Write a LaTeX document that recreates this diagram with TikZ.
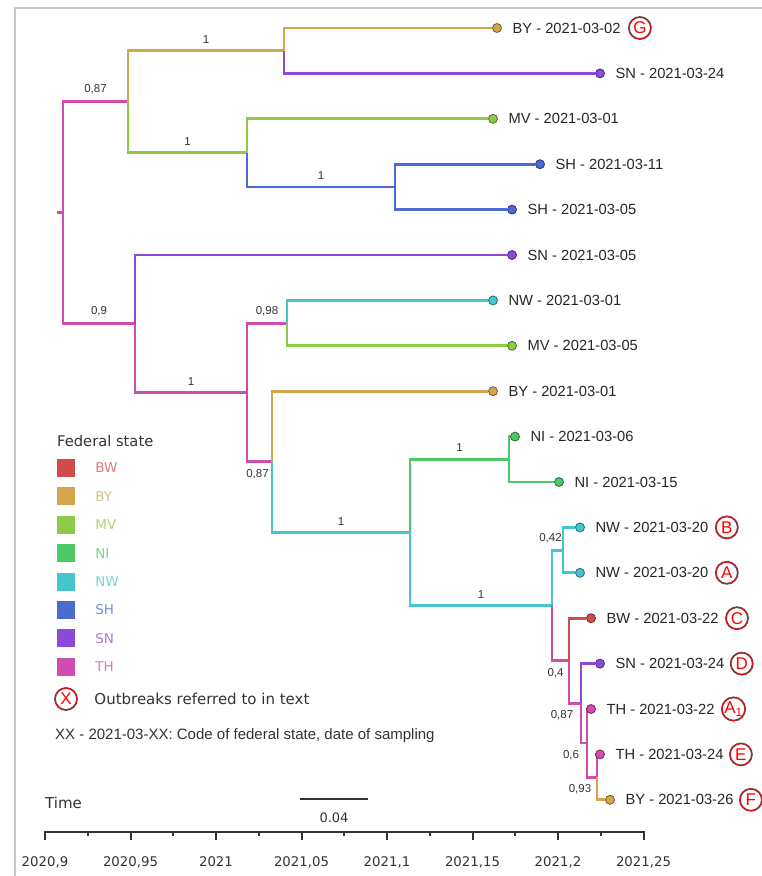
\documentclass[tikz,border=0pt]{standalone}
\usepackage{fontspec}
\setmainfont{Liberation Sans}
\newfontfamily\dejavu{DejaVu Sans}
\usetikzlibrary{positioning, backgrounds}
\definecolor{cBW}{HTML}{D24B4B}
\definecolor{cBY}{HTML}{D3A64C}
\definecolor{cMV}{HTML}{8DCB45}
\definecolor{cNI}{HTML}{4CC966}
\definecolor{cNW}{HTML}{45C5CC}
\definecolor{cSH}{HTML}{4B6BD0}
\definecolor{cSN}{HTML}{8B4BD8}
\definecolor{cTH}{HTML}{D24BAF}
\definecolor{cgrey}{HTML}{333333}
\tikzset{
  branch/.style={draw=#1, line width=2.8pt},
  tip/.style={circle, fill=#1, draw=#1!55!black, line width=0.8pt, minimum size=9pt, inner sep=0pt},
  tiplabel/.style={font=\fontsize{14.7}{16}\selectfont, text=black!85, inner sep=0pt},
  bs/.style={font=\fontsize{11.5}{13}\selectfont, text=cgrey, inner sep=1pt},
  marker/.style={circle, draw=gray!70!black, line width=0.5pt, double=red, double distance=0.8pt, text=red, font=\fontsize{17}{19}\selectfont, minimum size=22pt, inner sep=0pt},
  swatch/.style={fill=#1, minimum size=18pt, inner sep=0pt},
  legtext/.style={text=#1!75, font=\dejavu\fontsize{13.5}{15}\selectfont, inner sep=0pt},
  axis/.style={draw=cgrey, line width=2pt},
  note/.style={text=cgrey, inner sep=0pt},
}
\begin{document}
\begin{tikzpicture}[x=1pt, y=-1pt]
  \useasboundingbox (0,0) rectangle (762,876);
  \draw[gray!45, line width=1.5pt] (15,876) -- (15,8) -- (762,8);

  % tips, one per row
  \foreach \n/\x/\c/\txt [count=\i from 0] in {
    by02/497/cBY/BY - 2021-03-02, sn24a/600/cSN/SN - 2021-03-24,
    mv01/493/cMV/MV - 2021-03-01, sh11/540/cSH/SH - 2021-03-11,
    sh05/512/cSH/SH - 2021-03-05, sn05/512/cSN/SN - 2021-03-05,
    nw01/493/cNW/NW - 2021-03-01, mv05/512/cMV/MV - 2021-03-05,
    by01/493/cBY/BY - 2021-03-01, ni06/515/cNI/NI - 2021-03-06,
    ni15/559/cNI/NI - 2021-03-15, nw20b/580/cNW/NW - 2021-03-20,
    nw20a/580/cNW/NW - 2021-03-20, bw22/591/cBW/BW - 2021-03-22,
    sn24/600/cSN/SN - 2021-03-24, th22/591/cTH/TH - 2021-03-22,
    th24/600/cTH/TH - 2021-03-24, by26/610/cBY/BY - 2021-03-26}
  {
    \node[tip=\c] (\n) at (\x, 28+45.4*\i) {};
    \node[tiplabel, right=10.5pt of \n] (l\n) {\txt};
  }
  \node[marker, right=8pt of lby02] (mG) {G};
  \node[marker, right=7pt of lnw20b] (mB) {B};
  \node[marker, right=7pt of lnw20a] (mA) {A};
  \node[marker, right=7pt of lbw22] (mC) {C};
  \node[marker, right=6pt of lsn24] (mD) {D};
  \node[marker, right=7pt of lth22] (mA1) {A\textsubscript{1}};
  \node[marker, right=6pt of lth24] (mE) {E};
  \node[marker, right=6pt of lby26] (mF) {F};

  % inner nodes of the tree
  \coordinate (stub) at (57,212.8);
  \coordinate (root) at (63,212.8);
  \coordinate (top) at (128,101.8);
  \coordinate (bysn) at (284,50.7);
  \coordinate (mvsh) at (247,152.85);
  \coordinate (sh) at (395,186.9);
  \coordinate (bot) at (135,323.7);
  \coordinate (mid) at (247,392.5);
  \coordinate (nwmv) at (287,323.1);
  \coordinate (byx) at (272,461.8);
  \coordinate (nwni) at (410,532.4);
  \coordinate (ni) at (509,459.3);
  \coordinate (out) at (552,605.4);
  \coordinate (nwab) at (563,550.1);
  \coordinate (bw) at (569,660.8);
  \coordinate (sn) at (581,703.3);
  \coordinate (tha) at (587,743.05);
  \coordinate (the) at (597,777.1);

  \begin{scope}[on background layer]
    \draw[branch=cTH] (stub) -- (root);
    \draw[branch=cTH] (root) |- node[bs, pos=0.75, above=5pt] (b1) {0,87} (top);
    \draw[branch=cTH] (root) |- node[bs, pos=0.75, above=5pt] (b2) {0,9} (bot);
    \draw[branch=cBY] (top) |- node[bs, pos=0.75, above=5pt] (b3) {1} (bysn);
    \draw[branch=cMV] (top) |- node[bs, pos=0.75, above=5pt] (b4) {1} (mvsh);
    \draw[branch=cBY] (bysn) |- (by02);
    \draw[branch=cSN] (bysn) |- (sn24a);
    \draw[branch=cMV] (mvsh) |- (mv01);
    \draw[branch=cSH] (mvsh) |- node[bs, pos=0.75, above=5pt] (b5) {1} (sh);
    \draw[branch=cSH] (sh) |- (sh11);
    \draw[branch=cSH] (sh) |- (sh05);
    \draw[branch=cSN] (bot) |- (sn05);
    \draw[branch=cTH] (bot) |- node[bs, pos=0.75, above=5pt] (b6) {1} (mid);
    \draw[branch=cTH] (mid) |- node[bs, pos=0.75, above=5pt] (b7) {0,98} (nwmv);
    \draw[branch=cTH] (mid) |- node[bs, pos=0.75, below=5pt, xshift=-2pt] (b8) {0,87} (byx);
    \draw[branch=cNW] (nwmv) |- (nw01);
    \draw[branch=cMV] (nwmv) |- (mv05);
    \draw[branch=cBY] (byx) |- (by01);
    \draw[branch=cNW] (byx) |- node[bs, pos=0.75, above=5pt] (b9) {1} (nwni);
    \draw[branch=cNI] (nwni) |- node[bs, pos=0.75, above=5pt] (b10) {1} (ni);
    \draw[branch=cNW] (nwni) |- node[bs, pos=0.75, above=5pt] (b11) {1} (out);
    \draw[branch=cNI] (ni) |- (ni06);
    \draw[branch=cNI] (ni) |- (ni15);
    \draw[branch=cNW] (out) |- node[bs, pos=0.75, above=5pt, xshift=-7pt] (b12) {0,42} (nwab);
    \draw[branch=cTH] (out) |- node[bs, pos=0.75, below=5pt, xshift=-5pt] (b13) {0,4} (bw);
    \draw[branch=cNW] (nwab) |- (nw20b);
    \draw[branch=cNW] (nwab) |- (nw20a);
    \draw[branch=cBW] (bw) |- (bw22);
    \draw[branch=cTH] (bw) |- node[bs, pos=0.75, below=5pt, xshift=-13pt] (b14) {0,87} (sn);
    \draw[branch=cSN] (sn) |- (sn24);
    \draw[branch=cTH] (sn) |- node[bs, pos=0.75, below=5pt, xshift=-13pt] (b15) {0,6} (tha);
    \draw[branch=cTH] (tha) |- (th22);
    \draw[branch=cTH] (tha) |- node[bs, pos=0.75, below=5pt, xshift=-12pt] (b16) {0,93} (the);
    \draw[branch=cTH] (the) |- (th24);
    \draw[branch=cBY] (the) |- (by26);
  \end{scope}

  % legend
  \node[note, anchor=west, font=\dejavu\fontsize{14.7}{16}\selectfont] (legtitle) at (57,441) {Federal state};
  \foreach \s [count=\i from 0] in {BW,BY,MV,NI,NW,SH,SN,TH} {
    \node[swatch=c\s] (sw\s) at (66, 468+28.4*\i) {};
    \node[legtext=c\s, right=20pt of sw\s] (lg\s) {\s};
  }
  \node[marker] (mX) at (66,699) {X};
  \node[note, right=17pt of mX, font=\dejavu\fontsize{15}{17}\selectfont] (outb) {Outbreaks referred to in text};
  \node[note, anchor=west, font=\fontsize{15}{17}\selectfont] (key) at (55,736) {XX - 2021-03-XX: Code of federal state, date of sampling};

  % time axis and scale bar
  \node[note, anchor=west, font=\dejavu\fontsize{15}{17}\selectfont] (time) at (45,803) {Time};
  \coordinate (sb0) at (300,799);
  \coordinate (sb1) at (368,799);
  \draw[axis] (sb0) -- (sb1);
  \node[note, font=\dejavu\fontsize{13}{15}\selectfont] (sblab) at (334,818) {0.04};
  \coordinate (ax0) at (44,832);
  \coordinate (ax1) at (644.5,832);
  \draw[axis] (ax0) -- (ax1);
  \foreach \lab [count=\i from 0] in {{2020,9},{2020,95},2021,{2021,05},{2021,1},{2021,15},{2021,2},{2021,25}} {
    \draw[axis] (45+85.5*\i,832) -- ++(0,8);
    \node[note, font=\dejavu\fontsize{13.3}{15}\selectfont] (tk\i) at (45+85.5*\i,862) {\lab};
  }
  \foreach \i in {0,...,6}
    \draw[axis] (87.75+85.5*\i,832) -- ++(0,4);
\end{tikzpicture}
\end{document}
